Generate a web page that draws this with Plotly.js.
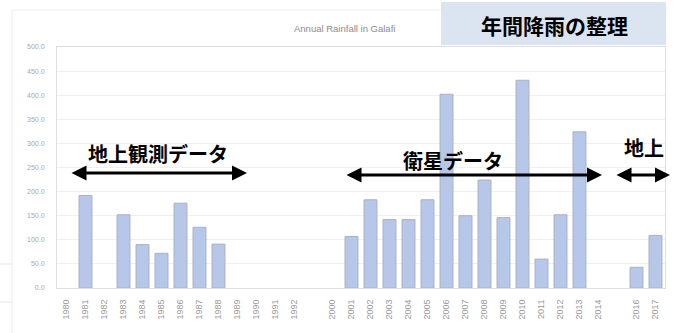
<!DOCTYPE html>
<html>
<head>
<meta charset="utf-8">
<script src="https://cdn.plot.ly/plotly-3.0.1.min.js"></script>
<style>html,body{margin:0;padding:0;background:#fff;}#chart{width:681px;height:333px;}</style>
</head>
<body>
<div id="chart"></div>
<script>
// Categories (blank slots are gaps in the record)
const years = ['1980','1981','1982','1983','1984','1985','1986','1987','1988','1989','1990','1991','1992',' ',
  '2000','2001','2002','2003','2004','2005','2006','2007','2008','2009','2010','2011','2012','2013','2014','  ',
  '2016','2017'];
// Annual rainfall (mm) (null = no bar drawn)
const rainfall = [null,192,null,152,90,72,176,126,91,null,null,null,null,null,
  null,107,183,142,142,183,402,150,224,146,431,60,152,324,null,null,
  43,109];
const yTicks = [0,50,100,150,200,250,300,350,400,450,500];
const yTickText = ['0.0','50.0','100.0','150.0','200.0','250.0','300.0','350.0','400.0','450.0','500.0'];
const chartTitle = 'Annual Rainfall in Galafi';
const headline = '年間降雨の整理';
const periodLabels = ['地上観測データ','衛星データ','地上'];

const W = 681, H = 333, L = 57, R = 16, T = 47, B = 45;
const pw = W - L - R, ph = H - T - B;
const px = x => (x - L) / pw;
const py = y => (H - B - y) / ph;

const jpFont = {family: '"Noto Sans CJK JP", "Noto Sans", sans-serif', size: 20, color: '#000'};

function arrow(x0, x1, y) {
  return {xref: 'paper', yref: 'paper', x: px(x1), y: py(y), ax: x0 - x1, ay: 0,
    axref: 'pixel', ayref: 'pixel', text: '', showarrow: true, arrowhead: 2, startarrowhead: 2,
    arrowside: 'end+start', arrowsize: 1, startarrowsize: 1, arrowwidth: 3, arrowcolor: '#000',
    standoff: 0, startstandoff: 0};
}

const trace = {
  type: 'bar', x: years, y: rainfall,
  marker: {color: '#b7c7e9', line: {color: '#aab1c1', width: 1}},
  width: 0.68, hoverinfo: 'skip'
};

const layout = {
  width: W, height: H,
  margin: {l: L, r: R, t: T, b: B, pad: 0},
  paper_bgcolor: '#fff', plot_bgcolor: '#fff',
  showlegend: false,
  font: {family: 'Liberation Sans, Arial, sans-serif', color: '#999'},
  xaxis: {type: 'category', categoryorder: 'array', categoryarray: years,
    tickangle: -90, tickfont: {size: 9, color: '#9a9a9a'}, showline: true, mirror: true,
    linecolor: '#dedede', linewidth: 1, showgrid: false, ticks: '', ticklabelstandoff: 7,
    range: [-0.5, years.length - 0.5], fixedrange: true},
  yaxis: {range: [0, 500], tickvals: yTicks, ticktext: yTickText,
    tickfont: {size: 7, color: '#a8a8a8'}, showline: true, mirror: true, linecolor: '#dedede',
    gridcolor: '#efefef', gridwidth: 1, zeroline: false, ticks: '', ticklabelstandoff: 10,
    fixedrange: true},
  shapes: [
    {type: 'rect', xref: 'paper', yref: 'paper', x0: px(441), x1: px(666), y0: py(45), y1: py(2),
      fillcolor: '#dbe5f2', line: {width: 0}, layer: 'below'},
    {type: 'line', xref: 'paper', yref: 'paper', x0: px(12), x1: px(12), y0: py(10), y1: py(333),
      line: {color: '#ececec', width: 1}},
    {type: 'line', xref: 'paper', yref: 'paper', x0: px(12), x1: px(441), y0: py(10), y1: py(10),
      line: {color: '#f0f0f0', width: 1}},
    {type: 'line', xref: 'paper', yref: 'paper', x0: px(0), x1: px(12), y0: py(264), y1: py(264),
      line: {color: '#e6e6e6', width: 1}},
    {type: 'line', xref: 'paper', yref: 'paper', x0: px(0), x1: px(12), y0: py(302), y1: py(302),
      line: {color: '#e6e6e6', width: 1}}
  ],
  annotations: [
    {xref: 'paper', yref: 'paper', x: px(344), y: py(28), text: chartTitle, showarrow: false,
      font: {size: 9.5, color: '#8c8c8c'}, xanchor: 'center', yanchor: 'middle'},
    {xref: 'paper', yref: 'paper', x: px(554), y: py(25), text: '<b>' + headline + '</b>', showarrow: false,
      font: Object.assign({}, jpFont, {size: 21}), xanchor: 'center', yanchor: 'middle'},
    {xref: 'paper', yref: 'paper', x: px(158), y: py(153), text: '<b>' + periodLabels[0] + '</b>', showarrow: false,
      font: jpFont, xanchor: 'center', yanchor: 'middle'},
    {xref: 'paper', yref: 'paper', x: px(453), y: py(160), text: '<b>' + periodLabels[1] + '</b>', showarrow: false,
      font: jpFont, xanchor: 'center', yanchor: 'middle'},
    {xref: 'paper', yref: 'paper', x: px(644), y: py(147), text: '<b>' + periodLabels[2] + '</b>', showarrow: false,
      font: jpFont, xanchor: 'center', yanchor: 'middle'},
    arrow(70, 247, 173),
    arrow(345, 602, 175),
    arrow(615, 670, 175)
  ]
};

Plotly.newPlot('chart', [trace], layout, {staticPlot: true, displayModeBar: false});
</script>
</body>
</html>
